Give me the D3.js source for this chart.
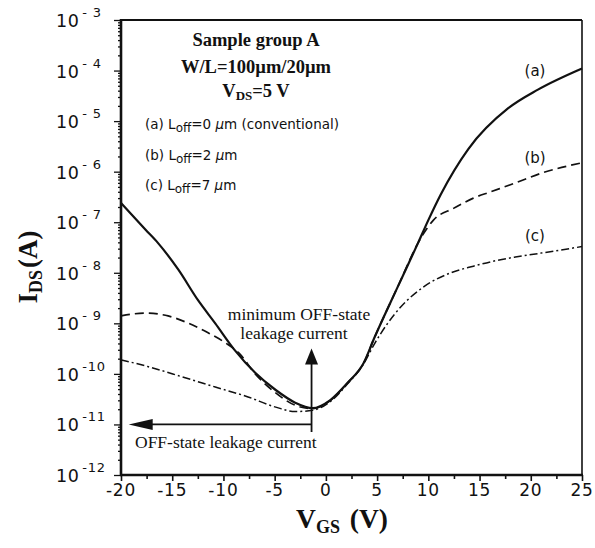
<!DOCTYPE html>
<html>
<head>
<meta charset="utf-8">
<script src="https://cdn.jsdelivr.net/npm/d3@7"></script>
<style>
  html, body { margin: 0; padding: 0; background: #fff; }
  svg { display: block; }
  .tick-label { font-family: "DejaVu Sans", "Liberation Sans", sans-serif; fill: #111; }
  .serif { font-family: "Liberation Serif", "Times New Roman", serif; fill: #111; }
  .sans { font-family: "DejaVu Sans", "Liberation Sans", sans-serif; fill: #111; }
</style>
</head>
<body>
<svg id="chart" width="595" height="548"></svg>
<script>
// Gate voltage (V) and drain current (A) for each offset length
const vgsA = [-20, -17.6, -16.4, -14.4, -12.5, -10.8, -8.9, -6.9, -4.9, -3.0, -1.3, 0.4, 2.1, 3.7, 4.7, 7.0, 9.0, 10.0, 11.2, 13.9, 17.8, 20.7, 25];
const idsA = [2.4e-7, 7.1e-8, 3.9e-8, 1.15e-8, 2.9e-9, 1.0e-9, 2.95e-10, 1.05e-10, 4.8e-11, 2.7e-11, 2.1e-11, 3.0e-11, 6.6e-11, 1.66e-10, 5.0e-10, 5.2e-9, 3.9e-8, 1.1e-7, 3.5e-7, 2.8e-6, 1.8e-5, 4.2e-5, 1.1e-4];

const vgsB = [-20, -17.6, -15.4, -13.4, -11.5, -9.8, -8.5, -6.9, -4.9, -3.0, -1.3, 0.4, 2.1, 3.7, 4.7, 7.0, 9.3, 10.5, 12.5, 14.4, 16.1, 18.5, 21.0, 25];
const idsB = [1.4e-9, 1.6e-9, 1.4e-9, 1.0e-9, 6.5e-10, 4.1e-10, 2.6e-10, 1.0e-10, 4.2e-11, 2.4e-11, 2.05e-11, 2.95e-11, 6.6e-11, 1.66e-10, 5.0e-10, 5.2e-9, 5.0e-8, 1.1e-7, 1.9e-7, 3.0e-7, 4.0e-7, 6.0e-7, 9.3e-7, 1.5e-6];

const vgsC = [-20, -17.4, -14.0, -10.8, -7.6, -4.9, -3.0, -1.3, 0.4, 2.1, 3.7, 4.7, 7.3, 9.5, 12.2, 14.4, 16.1, 18.5, 21.0, 25];
const idsC = [1.9e-10, 1.4e-10, 8.7e-11, 5.5e-11, 3.5e-11, 2.2e-11, 1.8e-11, 1.9e-11, 2.8e-11, 6.3e-11, 1.6e-10, 3.8e-10, 2.1e-9, 5.2e-9, 1.0e-8, 1.35e-8, 1.65e-8, 2.05e-8, 2.45e-8, 3.3e-8];

const seriesNames = ["(a)", "(b)", "(c)"];

const xTicks = [-20, -15, -10, -5, 0, 5, 10, 15, 20, 25];
const yExponents = [-3, -4, -5, -6, -7, -8, -9, -10, -11, -12];

const legendLines = [
  { tag: "(a) ", value: "=0 ", tail: " (conventional)" },
  { tag: "(b) ", value: "=2 ", tail: "" },
  { tag: "(c) ", value: "=7 ", tail: "" }
];

// Arrow annotations in data units
const minLeakV = -1.4;
const offLeakI = 1e-11;

const svg = d3.select("#chart");
const plotL = 121, plotR = 582, plotT = 20, plotB = 475;

const x = d3.scaleLinear().domain([-20, 25]).range([plotL, plotR]);
const y = d3.scaleLog().domain([1e-12, 1e-3]).range([plotB, plotT]);

// Frame: heavy left/bottom axes, lighter top/right border
svg.append("line").attr("x1", plotL).attr("x2", plotR).attr("y1", plotT).attr("y2", plotT)
  .attr("stroke", "#111").attr("stroke-width", 2);
svg.append("line").attr("x1", plotR).attr("x2", plotR).attr("y1", plotT).attr("y2", plotB)
  .attr("stroke", "#111").attr("stroke-width", 1.6);

// X axis with minor ticks at half steps
const xMinor = d3.range(-17.5, 25, 5);
const xAxisMinor = d3.axisBottom(x).tickValues(xMinor).tickSize(4).tickFormat("");
const xAxis = d3.axisBottom(x).tickValues(xTicks).tickSize(6).tickFormat("");
const gxm = svg.append("g").attr("transform", `translate(0,${plotB})`).call(xAxisMinor);
const gx = svg.append("g").attr("transform", `translate(0,${plotB})`).call(xAxis);
[gx, gxm].forEach(g => {
  g.select(".domain").remove();
  g.selectAll(".tick line").attr("stroke", "#111").attr("stroke-width", 1.6);
});
svg.append("line").attr("x1", plotL - 1).attr("x2", plotR + 1).attr("y1", plotB).attr("y2", plotB)
  .attr("stroke", "#111").attr("stroke-width", 2.4);

svg.append("g").selectAll("text").data(xTicks).join("text")
  .attr("class", "tick-label")
  .attr("x", d => x(d)).attr("y", 496)
  .attr("text-anchor", "middle")
  .attr("font-size", 17)
  .attr("letter-spacing", 0.8)
  .text(d => d);

// Y axis: decade ticks plus 2..9 minor ticks
const yMinor = [];
for (let e = -12; e < -3; e++) for (let m = 2; m <= 9; m++) yMinor.push(m * Math.pow(10, e));
const yAxisMinor = d3.axisLeft(y).tickValues(yMinor).tickSize(3).tickFormat("");
const yAxis = d3.axisLeft(y).tickValues(yExponents.map(e => Math.pow(10, e))).tickSize(7).tickFormat("");
const gym = svg.append("g").attr("transform", `translate(${plotL},0)`).call(yAxisMinor);
const gy = svg.append("g").attr("transform", `translate(${plotL},0)`).call(yAxis);
[gy, gym].forEach(g => {
  g.select(".domain").remove();
  g.selectAll(".tick line").attr("stroke", "#111").attr("stroke-width", 1.3);
});
svg.append("line").attr("x1", plotL).attr("x2", plotL).attr("y1", plotT - 1).attr("y2", plotB + 1)
  .attr("stroke", "#111").attr("stroke-width", 2.6);

const yl = svg.append("g").selectAll("text").data(yExponents).join("text")
  .attr("class", "tick-label")
  .attr("x", 56).attr("y", d => y(Math.pow(10, d)) + 7)
  .attr("font-size", 17.5);
yl.append("tspan").attr("letter-spacing", 0.5).text("10");
yl.append("tspan").attr("dx", 3).attr("dy", -10).attr("font-size", 13).attr("letter-spacing", 0.8)
  .text(d => d <= -10 ? String(d) : "- " + (-d));

// Axis titles
const xt = svg.append("text").attr("class", "serif")
  .attr("x", 342).attr("y", 528).attr("text-anchor", "middle")
  .attr("font-size", 27.5).attr("font-weight", "bold");
xt.append("tspan").text("V");
xt.append("tspan").attr("dy", 5).attr("font-size", 18).text("GS");
xt.append("tspan").attr("dy", -5).attr("dx", 3).text(" (V)");

const yt = svg.append("text").attr("class", "serif")
  .attr("transform", "translate(37,267) rotate(-90)").attr("text-anchor", "middle")
  .attr("font-size", 27).attr("font-weight", "bold");
yt.append("tspan").text("I");
yt.append("tspan").attr("dy", 5).attr("font-size", 18).text("DS");
yt.append("tspan").attr("dy", -5).attr("dx", 2).text("(A)");

// Curves
const line = d3.line().x(d => x(d[0])).y(d => y(d[1])).curve(d3.curveMonotoneX);
const zipSeries = (v, i) => v.map((d, k) => [d, i[k]]);
const curves = [
  { data: zipSeries(vgsA, idsA), width: 2.2, dash: null },
  { data: zipSeries(vgsB, idsB), width: 1.7, dash: "9,5" },
  { data: zipSeries(vgsC, idsC), width: 1.5, dash: "8,3,2,3" }
];
svg.append("g").selectAll("path").data(curves).join("path")
  .attr("d", d => line(d.data))
  .attr("fill", "none")
  .attr("stroke", "#111")
  .attr("stroke-width", d => d.width)
  .attr("stroke-dasharray", d => d.dash);

// Curve tags near the right edge
const tagY = [76, 163, 241];
svg.append("g").selectAll("text").data(seriesNames).join("text")
  .attr("class", "sans")
  .attr("x", 535).attr("y", (d, i) => tagY[i])
  .attr("text-anchor", "middle").attr("font-size", 15)
  .text(d => d);

// Sample description
const title = svg.append("g").attr("class", "serif").attr("font-weight", "bold").attr("font-size", 18.5);
title.append("text").attr("x", 256).attr("y", 46).attr("text-anchor", "middle").text("Sample group A");
title.append("text").attr("x", 256).attr("y", 73).attr("text-anchor", "middle").text("W/L=100\u00b5m/20\u00b5m");
const vds = title.append("text").attr("x", 256).attr("y", 97).attr("text-anchor", "middle");
vds.append("tspan").text("V");
vds.append("tspan").attr("dy", 3).attr("font-size", 13).text("DS");
vds.append("tspan").attr("dy", -3).text("=5 V");

// Offset-length legend
const legendY = [129, 160, 190];
const lg = svg.append("g").selectAll("text").data(legendLines).join("text")
  .attr("class", "sans").attr("font-size", 13.5)
  .attr("x", 145).attr("y", (d, i) => legendY[i]);
lg.append("tspan").text(d => d.tag + "L");
lg.append("tspan").attr("dy", 3).attr("font-size", 12).text("off");
lg.append("tspan").attr("dy", -3).text(d => d.value);
lg.append("tspan").attr("font-style", "italic").text("\u03bc");
lg.append("tspan").text(d => "m" + d.tail);

// Arrows
const arrowG = svg.append("g");
const xv = x(minLeakV);
const tipY = y(Math.pow(10, -9.5));
arrowG.append("line").attr("x1", xv).attr("x2", xv)
  .attr("y1", tipY + 12).attr("y2", y(Math.pow(10, -11.15)))
  .attr("stroke", "#111").attr("stroke-width", 1.8);
arrowG.append("path")
  .attr("d", `M${xv},${tipY} L${xv - 6.5},${tipY + 16} L${xv + 6.5},${tipY + 16} Z`)
  .attr("fill", "#111");
const yh = y(offLeakI);
const tipX = x(-19.25);
arrowG.append("line").attr("x1", xv).attr("x2", tipX + 18).attr("y1", yh).attr("y2", yh)
  .attr("stroke", "#111").attr("stroke-width", 1.8);
arrowG.append("path")
  .attr("d", `M${tipX},${yh} L${tipX + 24},${yh - 5.5} L${tipX + 24},${yh + 5.5} Z`)
  .attr("fill", "#111");

const ann = svg.append("g").attr("class", "serif").attr("font-size", 17.5);
ann.append("text").attr("x", 299).attr("y", 320).attr("text-anchor", "middle").text("minimum OFF-state");
ann.append("text").attr("x", 294).attr("y", 339).attr("text-anchor", "middle").text("leakage current");
ann.append("text").attr("x", 135).attr("y", 448).text("OFF-state leakage current");
</script>
</body>
</html>
